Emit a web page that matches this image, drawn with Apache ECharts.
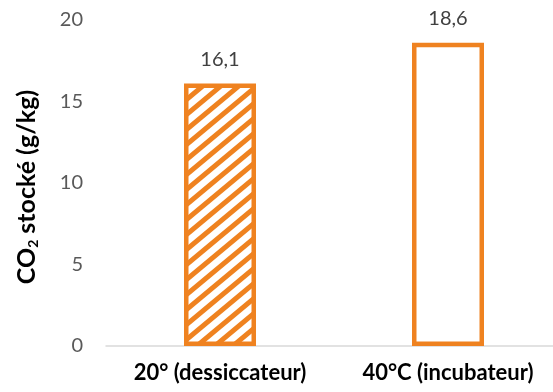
<!DOCTYPE html>
<html>
<head>
<meta charset="utf-8">
<script src="https://cdn.jsdelivr.net/npm/echarts@6/dist/echarts.min.js"></script>
<style>
html,body{margin:0;padding:0;background:#fff;overflow:hidden;width:553px;height:392px;}
#c{width:570px;height:392px;}
</style>
</head>
<body>
<div id="c"></div>
<script>
const categories = ['20° (dessiccateur)', '40°C (incubateur)'];
const values = [16.1, 18.6];
const yTicks = [0, 5, 10, 15, 20];

const ORANGE = '#EF8220';
const FONT = 'Lato, "Open Sans", sans-serif';

function hatch() {
  const W = 18, H = 15;
  const cv = document.createElement('canvas');
  cv.width = W; cv.height = H;
  const ctx = cv.getContext('2d');
  ctx.fillStyle = '#fff';
  ctx.fillRect(0, 0, W, H);
  ctx.strokeStyle = ORANGE;
  ctx.lineWidth = 5;
  for (const dy of [-H, 0, H]) {
    ctx.beginPath();
    ctx.moveTo(-3, H + dy + 3 * H / W);
    ctx.lineTo(W + 3, dy - 3 * H / W);
    ctx.stroke();
  }
  return { image: cv, repeat: 'repeat' };
}

const fills = [hatch(), '#ffffff'];

const chart = echarts.init(document.getElementById('c'), null, { renderer: 'canvas' });
chart.setOption({
  animation: false,
  backgroundColor: '#fff',
  grid: { left: 106, top: 20, width: 456, height: 326, containLabel: false },
  xAxis: {
    type: 'category',
    data: categories,
    axisLine: { show: true, lineStyle: { color: '#D9D9D9', width: 1.5 } },
    axisTick: { show: false },
    axisLabel: {
      interval: 0,
      margin: 16,
      color: '#000',
      fontFamily: FONT,
      fontWeight: 'bold',
      fontSize: 22
    }
  },
  yAxis: {
    type: 'value',
    min: yTicks[0],
    max: yTicks[yTicks.length - 1],
    interval: 5,
    splitLine: { show: false },
    axisLine: { show: false },
    axisTick: { show: false },
    axisLabel: {
      margin: 23,
      color: '#595959',
      fontFamily: FONT,
      fontSize: 20
    },
    name: 'CO{sub|2} stocké (g/kg)',
    nameLocation: 'middle',
    nameGap: 66,
    nameRotate: 90,
    nameTextStyle: {
      color: '#000',
      fontFamily: FONT,
      fontWeight: 'bold',
      fontSize: 25,
      padding: [0, 8, 0, 0],
      rich: {
        sub: {
          fontFamily: FONT,
          fontWeight: 'bold',
          fontSize: 14,
          verticalAlign: 'bottom',
          padding: [12, 0, 0, 0]
        }
      }
    }
  },
  series: [{
    type: 'bar',
    barWidth: 72,
    data: values.map((v, i) => ({
      value: v,
      itemStyle: { color: fills[i], borderColor: ORANGE, borderWidth: 4.5 }
    })),
    label: {
      show: true,
      position: 'top',
      distance: 14,
      color: '#404040',
      fontFamily: FONT,
      fontSize: 20,
      formatter: p => String(p.value).replace('.', ',')
    }
  }]
});
</script>
</body>
</html>
